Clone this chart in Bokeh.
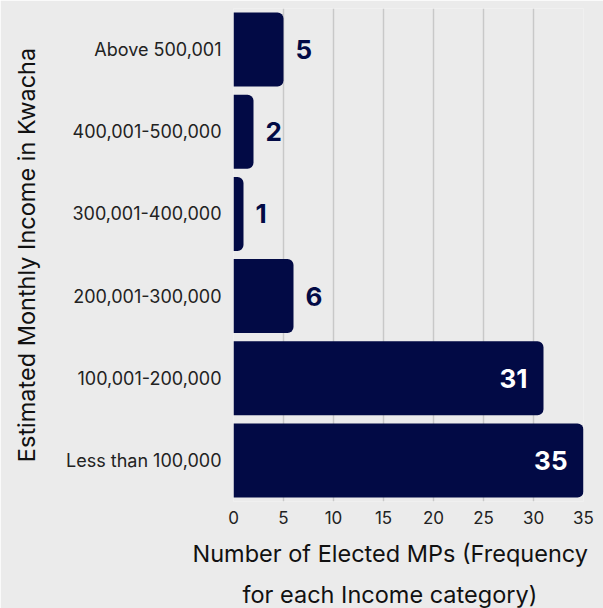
from bokeh.plotting import figure
from bokeh.models import ColumnDataSource, LabelSet, Title, FactorRange, Range1d, FixedTicker
from bokeh.core.properties import value
from bokeh.embed import file_html
from bokeh.resources import INLINE

categories = ["Less than 100,000", "100,001-200,000", "200,001-300,000",
              "300,001-400,000", "400,001-500,000", "Above 500,001"]
values = [35, 31, 6, 1, 2, 5]
x_ticks = [0, 5, 10, 15, 20, 25, 30, 35]
x_title_lines = ["Number of Elected MPs (Frequency", "for each Income category)"]
y_title = "Estimated Monthly Income in Kwacha"

NAVY = "#020A45"
BG = "#EBEBEB"
FONT = "Inter"

inside = [v >= 20 for v in values]
src = ColumnDataSource(dict(cat=categories, val=values))
src_in = ColumnDataSource(dict(
    cat=[c for c, i in zip(categories, inside) if i],
    val=[v for v, i in zip(values, inside) if i],
    txt=[str(v) for v, i in zip(values, inside) if i],
))
src_out = ColumnDataSource(dict(
    cat=[c for c, i in zip(categories, inside) if not i],
    val=[v for v, i in zip(values, inside) if not i],
    txt=[str(v) for v, i in zip(values, inside) if not i],
))

p = figure(width=603, height=608, output_backend="svg", toolbar_location=None,
           y_range=FactorRange(*categories, range_padding=0),
           x_range=Range1d(0, 35),
           min_border_left=233, min_border_right=20, min_border_top=8,
           min_border_bottom=105)
p.background_fill_color = BG
p.border_fill_color = BG
p.outline_line_color = None

p.hbar(y="cat", right="val", left=0, height=0.9, source=src,
       fill_color=NAVY, line_color=None, border_radius=(0, 6, 6, 0))

lab_out = LabelSet(x="val", y="cat", text="txt", source=src_out,
                   x_offset=12, text_align="left", text_baseline="middle",
                   text_font=value(FONT), text_font_style="bold",
                   text_font_size="26px", text_color=NAVY)
lab_in = LabelSet(x="val", y="cat", text="txt", source=src_in,
                  x_offset=-16, text_align="right", text_baseline="middle",
                  text_font=value(FONT), text_font_style="bold",
                  text_font_size="26px", text_color="white")
p.add_layout(lab_out)
p.add_layout(lab_in)

title_offsets = [-41, 9]
title_standoffs = [20, 0]
for line, off, so in zip(x_title_lines, title_offsets, title_standoffs):
    t = Title(text=line, align="left", offset=off,
              text_font=FONT, text_font_size="23.5px", text_font_style="normal",
              text_color="#111111", standoff=so, text_line_height=0.7)
    p.add_layout(t, "below")

p.xaxis.ticker = FixedTicker(ticks=x_ticks)
p.xgrid.grid_line_color = "#C8C8C8"
p.xgrid.grid_line_width = 1.5
p.ygrid.grid_line_color = None

for ax in (p.xaxis[0], p.yaxis[0]):
    ax.axis_line_color = None
    ax.major_tick_line_color = None
    ax.minor_tick_line_color = None
    ax.major_label_text_font = FONT
    ax.major_label_text_color = "#222222"
    ax.axis_label_text_font = FONT
    ax.axis_label_text_font_style = "normal"
    ax.axis_label_text_font_size = "23.5px"
    ax.axis_label_text_color = "#111111"

p.yaxis.major_label_text_font_size = "18px"
p.xaxis.major_label_text_font_size = "17px"
p.xaxis.major_label_standoff = 3
p.yaxis.major_label_standoff = 6
p.yaxis.axis_label = y_title
p.yaxis.axis_label_standoff = 22

open("out.html", "w").write(file_html(p, INLINE))
